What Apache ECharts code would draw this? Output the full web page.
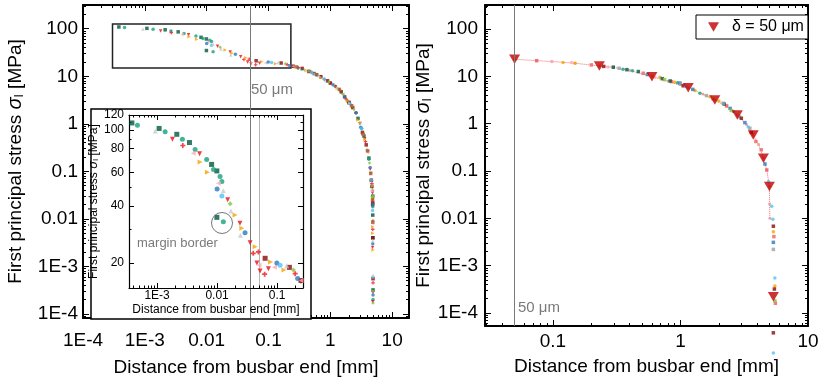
<!DOCTYPE html>
<html><head><meta charset="utf-8">
<script src="https://cdn.jsdelivr.net/npm/echarts@6/dist/echarts.min.js"></script>
<style>html,body{margin:0;padding:0;background:#fff}#c{width:822px;height:382px}</style>
</head><body><div id="c"></div>
<script>
// ---------- tick labels ----------
const leftXTicks = [1e-4, 1e-3, 0.01, 0.1, 1, 10];
const leftXLabels = ['1E-4', '1E-3', '0.01', '0.1', '1', '10'];
const stressTicks = [1e-4, 1e-3, 0.01, 0.1, 1, 10, 100];
const stressLabels = ['1E-4', '1E-3', '0.01', '0.1', '1', '10', '100'];
const rightXTicks = [0.1, 1, 10];
const rightXLabels = ['0.1', '1', '10'];
const insetXTicks = [1e-3, 0.01, 0.1];
const insetXLabels = ['1E-3', '0.01', '0.1'];
const insetYTicks = [20, 40, 60, 80, 100, 120];
const insetYLabels = ['20', '40', '60', '80', '100', '120'];
const insetYMinor = [30, 50, 70, 90, 110];
const deltaName = 'δ = 50 μm';
const marginLineX = 0.05; // 50 µm in mm
const zoomBox = [[3e-4, 126], [0.23, 15]];

// ---------- left panel / inset data: [distance mm, stress MPa] ----------
const darkGreenPts = [[3.8e-4,109],[1.08e-3,102],[2.13e-3,95],[3.46e-3,86],[8.1e-3,66],[9.9e-3,61],[0.0099,34.8],[0.35,14.5],[0.55,11.4],[0.9,8.0],[1.5,4.7],[2.0,2.8],[2.8,1.3],[3.5,0.55],[4.2,0.19],[4.85,0.03],[4.85,0.012],[4.88,4e-3],[4.9,3.2e-4]];
const tealPts = [[4.7e-4,106],[1.36e-3,98],[2.64e-3,89.6],[4.3e-3,79],[6.7e-3,70],[8.7e-3,62],[0.0112,57],[0.012,53.6],[0.0127,33],[0.3,15],[0.45,12.8],[0.7,9.8],[1.2,6.2],[1.9,3.0],[2.6,1.7],[3.2,0.8],[4.2,0.18],[4.6,0.065],[4.8,0.03],[4.85,0.018],[4.9,2e-4]];
const redTriPts = [[1.8e-3,89.6],[5.1e-3,75],[0.015,43],[0.024,32.4],[0.0355,25.6],[0.046,20],[0.052,18.2],[0.0716,18.7],[0.25,16],[0.35,14.5],[0.6,10.8],[0.9,8.0],[1.2,6.0],[1.5,4.6],[2.2,2.4],[3.0,1.0],[3.6,0.48],[4.4,0.11],[4.5,0.09],[4.8,0.035],[4.85,0.025],[4.82,2.5e-3],[4.88,2.8e-4],[4.85,1.8e-4]];
const redPlusPts = [[2.68e-3,83],[0.0488,22.9],[0.04,22.5],[0.062,17.5],[0.2,17.6],[0.3,15.3],[0.5,12.1],[0.8,8.6],[1.0,7.3],[1.4,5.2],[1.8,3.3],[2.6,1.7],[3.4,0.6],[3.7,0.42],[4.0,0.27],[4.7,0.055],[4.8,0.04],[4.87,9e-3],[4.85,6e-3],[4.9,4.5e-4]];
const darkRedPts = [[0.0631,21.2],[0.16,19],[0.25,16.2],[0.45,12.6],[0.7,9.8],[1.0,7.2],[1.7,3.7],[2.0,2.8],[2.3,2.2],[3.3,0.66],[3.8,0.36],[4.6,0.065],[4.7,0.048],[4.85,0.022],[4.82,0.02],[4.85,4e-3],[4.9,5.5e-4]];
const pinkPts = [[4e-3,75.5],[0.0105,52.5],[0.05,19.5],[0.09,19],[0.25,16.2],[0.55,11.2],[1.1,6.6],[1.6,4.2],[2.2,2.4],[3.0,1.05],[4.0,0.25],[4.82,8e-3]];
const orangePts = [[5.2e-3,68],[6.9e-3,60],[0.0199,35.8],[0.0258,30.5],[0.043,24.4],[0.0775,20.3],[0.13,18.4],[0.4,13.5],[0.7,9.5],[1.3,5.6],[1.9,3.0],[2.8,1.2],[3.6,0.48],[4.85,0.028],[4.85,6.8e-3],[4.85,5e-3],[4.9,2.2e-3]];
const bluePts = [[0.01,49],[0.0292,28.9],[0.099,20],[0.22,16.6],[0.6,10.8],[1.1,6.6],[1.7,3.7],[2.6,1.7],[3.1,0.85],[4.4,0.12],[4.85,0.02],[4.85,3e-3],[4.9,2.5e-4]];
const lightBluePts = [[0.012,45],[0.112,19.5],[0.5,11.8],[0.8,8.8],[2.1,2.6],[3.2,0.8],[4.6,0.065],[4.82,0.015],[4.9,6e-4]];
const greyPts = [[9.3e-4,99],[0.0127,48],[0.017,37.6],[0.0245,28],[0.144,19.4],[0.4,13.3],[0.65,10.3],[1.3,5.8],[2.0,2.8],[3.4,0.6],[3.9,0.3],[4.75,0.04],[4.85,3.5e-3],[4.9,6.5e-4]];
const yellowGreenPts = [[0.0165,41],[0.187,18.4],[0.45,12.8],[0.95,7.6],[1.6,4.2],[2.4,2.0],[3.0,1.05],[4.3,0.15],[4.7,0.05],[4.85,0.03],[4.88,3e-4],[4.9,1.7e-4]];
const brownPts = [[0.28,15.8],[0.6,10.8],[1.4,5.3],[2.2,2.4],[3.4,0.6],[4.0,0.27],[4.5,0.09],[4.8,0.025],[4.85,8.5e-3]];

// ---------- right panel data ----------
const deltaLinePts = [[0.05,22.9],[0.0745,21.4],[0.098,20.5],[0.149,18.9],[0.231,16.5],[0.3,15.4],[0.4,13.3],[0.597,9.8],[0.8,7.9],[1.15,5.75],[1.5,4.2],[1.86,3.16],[2.3,2.3],[2.79,1.52],[3.3,0.95],[3.72,0.575],[4.1,0.36],[4.47,0.186],[4.75,0.105],[4.98,0.047],[5.0,0.02],[5.02,0.01]];
const deltaTriPts = [[0.05,22.9],[0.231,16.5],[0.597,9.8],[1.15,5.75],[1.86,3.16],[2.79,1.52],[3.72,0.575],[4.47,0.186],[4.98,0.047],[5.35,2.2e-4]];
const rRedPts = [[0.0745,21.4],[0.2,17.4],[0.51,11.6],[0.85,7.7],[2.3,2.4],[3.9,0.42],[4.3,0.28],[4.75,0.105],[5.4,0.0041],[5.55,1.6e-4]];
const rPinkPts = [[0.098,20.5],[0.14,19.5],[0.27,15.8],[0.63,9.6]];
const rOrangePts = [[0.12,19.6],[0.149,18.9],[0.6,10.2],[0.69,9.5],[0.9,7.5],[1.3,5.0],[1.71,3.7],[2.0,3.0],[5.35,0.0052],[5.5,3.7e-4]];
const rDarkGreenPts = [[0.297,15.6],[0.38,13.8],[0.467,12.6],[0.72,8.9],[0.83,7.97],[2.2,2.6]];
const rTealPts = [[0.354,14.1],[0.42,13.1],[0.95,7.3],[1.42,4.4],[2.6,1.8]];
const rBluePts = [[0.55,10.9],[0.99,7.2],[1.25,5.3],[2.45,2.1],[3.2,1.05],[4.6,0.14],[5.35,0.0031]];
const rGreyPts = [[0.33,14.8],[1.0,6.8],[1.6,3.9],[2.16,2.7],[2.9,1.4],[3.5,0.8],[5.35,0.0022]];
const rDarkRedPts = [[0.25,16.2],[1.05,6.3],[3.0,1.3],[3.6,0.65],[5.35,0.0068],[5.45,3.2e-4],[5.35,3.8e-5]];
const rLightBluePts = [[1.1,6.2],[3.4,0.85],[4.9,0.06],[5.2,0.018],[5.3,0.0095],[5.5,5.5e-4],[5.35,1.43e-5]];
const rYellowGreenPts = [[0.75,8.5],[1.8,3.3],[2.5,1.9],[5.5,1.8e-4]];

// ---------- styling ----------
const FONT = '"Liberation Sans", Arial, sans-serif';
const PLUS = 'path://M2,0h2v2h2v2h-2v2h-2v-2h-2v-2h2z';
const DOWN = 'path://M0,0L2,0L1,1.7Z';
const groups = [
  {data: darkGreenPts, color: '#00583f', symbol: 'rect'},
  {data: tealPts, color: '#17a07a', symbol: 'circle'},
  {data: redTriPts, color: '#e3121c', symbol: DOWN},
  {data: redPlusPts, color: '#f0141e', symbol: PLUS},
  {data: darkRedPts, color: '#8b0a0a', symbol: 'rect'},
  {data: pinkPts, color: '#ffaab4', symbol: 'triangle', rot: 90},
  {data: orangePts, color: '#f5a300', symbol: 'triangle', rot: -90},
  {data: bluePts, color: '#2c7bbd', symbol: 'circle'},
  {data: lightBluePts, color: '#4fc3f2', symbol: 'circle'},
  {data: greyPts, color: '#c3cccc', symbol: 'triangle'},
  {data: yellowGreenPts, color: '#8cbf3f', symbol: 'diamond'},
  {data: brownPts, color: '#a0642d', symbol: 'rect'}
];
const rightGroups = [
  {data: rRedPts, color: '#f06060', symbol: 'rect'},
  {data: rPinkPts, color: '#ffaab4', symbol: 'circle'},
  {data: rOrangePts, color: '#f5a300', symbol: 'circle'},
  {data: rDarkGreenPts, color: '#00583f', symbol: 'rect'},
  {data: rTealPts, color: '#17a07a', symbol: 'circle'},
  {data: rBluePts, color: '#2c7bbd', symbol: 'rect'},
  {data: rGreyPts, color: '#9aa0a0', symbol: 'rect'},
  {data: rDarkRedPts, color: '#8b0a0a', symbol: 'rect'},
  {data: rLightBluePts, color: '#4fc3f2', symbol: 'circle'},
  {data: rYellowGreenPts, color: '#8cbf3f', symbol: 'rect'}
];

function minorTicks(lo, hi) {
  const out = [];
  for (let d = -6; d <= 3; d++) for (let k = 2; k <= 9; k++) {
    const v = k * Math.pow(10, d);
    if (v > lo && v < hi) out.push(+v.toPrecision(3));
  }
  return out;
}
function fmt(ticks, labels) {
  return v => {
    for (let i = 0; i < ticks.length; i++) if (Math.abs(Math.log10(ticks[i]) - Math.log10(v)) < 1e-6) return labels[i];
    return '';
  };
}
function axis(o) {
  return {
    type: 'log', logBase: 10, gridIndex: o.g, position: o.pos, min: o.min, max: o.max, z: o.z || 0,
    axisLine: {show: !!o.line, onZero: false, lineStyle: {color: '#000', width: o.lw || 2}},
    axisTick: {show: true, inside: true, length: o.tl, customValues: o.ticks, lineStyle: {color: '#000', width: 1}},
    axisLabel: o.labels ? {show: true, customValues: o.ticks, formatter: fmt(o.ticks, o.labels), margin: o.margin, color: '#000', fontFamily: FONT, fontSize: o.fs} : {show: false},
    minorTick: {show: false}, splitLine: {show: false}, axisPointer: {show: false},
    name: o.name || '', nameLocation: 'middle', nameGap: o.nameGap || 0,
    nameTextStyle: o.nameStyle || {}
  };
}
function yNameStyle(fs, sub) {
  return {fontFamily: FONT, fontSize: fs, color: '#000',
    rich: {t: {fontFamily: FONT, fontSize: fs, color: '#000'},
           s: {fontFamily: FONT, fontSize: fs + 1, fontStyle: 'italic', color: '#000'},
           b: {fontFamily: FONT, fontSize: sub, color: '#000', verticalAlign: 'bottom', padding: [Math.round(fs * 0.45), 0, 0, 0]}}};
}
const yNameText = '{t|First principal stress }{s|σ}{b|I}{t| [MPa]}';
const xNameText = 'Distance from busbar end [mm]';

const L = {xmin: 1e-4, xmax: 18.7, ymin: 8.2e-5, ymax: 316};
const R = {xmin: 0.0293, xmax: 10, ymin: 5.3e-5, ymax: 321};
const I = {xmin: 3.4e-4, xmax: 0.27, ymin: 14.8, ymax: 120};

const xAxes = [
  axis({g: 0, pos: 'bottom', min: L.xmin, max: L.xmax, ticks: leftXTicks, labels: leftXLabels, tl: 6, line: true, margin: 13, fs: 19, name: xNameText, nameGap: 40, nameStyle: {fontFamily: FONT, fontSize: 19, color: '#000'}}),
  axis({g: 0, pos: 'bottom', min: L.xmin, max: L.xmax, ticks: minorTicks(L.xmin, L.xmax), tl: 3}),
  axis({g: 0, pos: 'top', min: L.xmin, max: L.xmax, ticks: leftXTicks, tl: 6, line: true}),
  axis({g: 0, pos: 'top', min: L.xmin, max: L.xmax, ticks: minorTicks(L.xmin, L.xmax), tl: 3}),
  axis({g: 1, pos: 'bottom', min: R.xmin, max: R.xmax, ticks: rightXTicks, labels: rightXLabels, tl: 6, line: true, margin: 6, fs: 19, name: xNameText, nameGap: 31, nameStyle: {fontFamily: FONT, fontSize: 19, color: '#000'}}),
  axis({g: 1, pos: 'bottom', min: R.xmin, max: R.xmax, ticks: minorTicks(R.xmin, R.xmax), tl: 3}),
  axis({g: 1, pos: 'top', min: R.xmin, max: R.xmax, ticks: rightXTicks, tl: 6, line: true}),
  axis({g: 1, pos: 'top', min: R.xmin, max: R.xmax, ticks: minorTicks(R.xmin, R.xmax), tl: 3}),
  axis({g: 2, pos: 'bottom', min: I.xmin, max: I.xmax, ticks: insetXTicks, labels: insetXLabels, tl: 5, line: true, lw: 1.2, margin: 2, fs: 12, z: 10, name: xNameText, nameGap: 16, nameStyle: {fontFamily: FONT, fontSize: 12, color: '#000'}}),
  axis({g: 2, pos: 'bottom', min: I.xmin, max: I.xmax, ticks: minorTicks(I.xmin, I.xmax), tl: 2.5, z: 10}),
  axis({g: 2, pos: 'top', min: I.xmin, max: I.xmax, ticks: insetXTicks, tl: 5, line: true, lw: 1.2, z: 10}),
  axis({g: 2, pos: 'top', min: I.xmin, max: I.xmax, ticks: minorTicks(I.xmin, I.xmax), tl: 2.5, z: 10})
];
const yAxes = [
  axis({g: 0, pos: 'left', min: L.ymin, max: L.ymax, ticks: stressTicks, labels: stressLabels, tl: 6, line: true, margin: 5, fs: 19, name: yNameText, nameGap: 57, nameStyle: yNameStyle(19, 12)}),
  axis({g: 0, pos: 'left', min: L.ymin, max: L.ymax, ticks: minorTicks(L.ymin, L.ymax), tl: 3}),
  axis({g: 0, pos: 'right', min: L.ymin, max: L.ymax, ticks: stressTicks, tl: 6, line: true}),
  axis({g: 0, pos: 'right', min: L.ymin, max: L.ymax, ticks: minorTicks(L.ymin, L.ymax), tl: 3}),
  axis({g: 1, pos: 'left', min: R.ymin, max: R.ymax, ticks: stressTicks, labels: stressLabels, tl: 6, line: true, margin: 7, fs: 19, name: yNameText, nameGap: 50, nameStyle: yNameStyle(19, 12)}),
  axis({g: 1, pos: 'left', min: R.ymin, max: R.ymax, ticks: minorTicks(R.ymin, R.ymax), tl: 3}),
  axis({g: 1, pos: 'right', min: R.ymin, max: R.ymax, ticks: stressTicks, tl: 6, line: true}),
  axis({g: 1, pos: 'right', min: R.ymin, max: R.ymax, ticks: minorTicks(R.ymin, R.ymax), tl: 3}),
  axis({g: 2, pos: 'left', min: I.ymin, max: I.ymax, ticks: insetYTicks, labels: insetYLabels, tl: 5, line: true, lw: 1.2, margin: 5, fs: 12, z: 10, name: yNameText, nameGap: 27, nameStyle: yNameStyle(12, 8)}),
  axis({g: 2, pos: 'left', min: I.ymin, max: I.ymax, ticks: insetYMinor, tl: 2.5, z: 10}),
  axis({g: 2, pos: 'right', min: I.ymin, max: I.ymax, ticks: insetYTicks, tl: 5, line: true, lw: 1.2, z: 10}),
  axis({g: 2, pos: 'right', min: I.ymin, max: I.ymax, ticks: insetYMinor, tl: 2.5, z: 10})
];

const series = [];
groups.forEach((g, i) => {
  const main = {type: 'scatter', xAxisIndex: 0, yAxisIndex: 0, data: g.data, symbol: g.symbol, symbolRotate: g.rot || 0,
    symbolSize: 3.5, itemStyle: {color: g.color}, silent: true, z: 2};
  if (i === 0) {
    main.markLine = {silent: true, symbol: ['none', 'none'], label: {show: false},
      lineStyle: {color: '#7a7a7a', type: 'solid', width: 1}, data: [{xAxis: marginLineX}]};
    main.markArea = {silent: true, itemStyle: {color: 'rgba(0,0,0,0)', borderColor: '#222', borderWidth: 1.5},
      data: [[{coord: zoomBox[0]}, {coord: zoomBox[1]}]]};
  }
  series.push(main);
  const ins = {type: 'scatter', xAxisIndex: 8, yAxisIndex: 8, data: g.data, symbol: g.symbol, symbolRotate: g.rot || 0,
    symbolSize: 5, itemStyle: {color: g.color}, silent: true, z: 12, clip: true};
  if (i === 0) {
    ins.markLine = {silent: true, symbol: ['none', 'none'], label: {show: false},
      lineStyle: {color: '#b5b5b5', type: 'solid', width: 1}, data: [{xAxis: marginLineX}]};
  }
  series.push(ins);
});
series.push({type: 'line', name: 'delta line', xAxisIndex: 4, yAxisIndex: 4, data: deltaLinePts, showSymbol: true,
  symbol: 'rect', symbolSize: 2.5, itemStyle: {color: '#f29a9a'}, lineStyle: {color: '#ee7070', width: 1, type: 'dotted'}, silent: true, z: 2,
  markLine: {silent: true, symbol: ['none', 'none'], label: {show: false}, lineStyle: {color: '#7a7a7a', type: 'solid', width: 1}, data: [{xAxis: marginLineX}]}});
rightGroups.forEach(g => {
  series.push({type: 'scatter', xAxisIndex: 4, yAxisIndex: 4, data: g.data, symbol: g.symbol, symbolSize: 3.5,
    itemStyle: {color: g.color}, silent: true, z: 3, clip: false});
});
series.push({type: 'scatter', name: deltaName, xAxisIndex: 4, yAxisIndex: 4, data: deltaTriPts, symbol: DOWN,
  symbolSize: [11, 9.5], itemStyle: {color: '#c00000'}, silent: true, z: 4});

const option = {
  animation: false,
  backgroundColor: '#fff',
  grid: [
    {left: 83, top: 5, width: 326, height: 315, containLabel: false},
    {left: 485, top: 5, width: 323, height: 321, containLabel: false},
    {left: 129, top: 115, width: 174, height: 173, containLabel: false}
  ],
  xAxis: xAxes,
  yAxis: yAxes,
  legend: {show: true, data: [{name: deltaName, icon: DOWN}], left: 696, top: 15, orient: 'vertical',
    itemWidth: 11, itemHeight: 9.5, itemGap: 0, padding: [4, 4, 4, 12],
    borderColor: '#000', borderWidth: 1, backgroundColor: '#fff',
    textStyle: {fontFamily: FONT, fontSize: 16, color: '#000', padding: [0, 0, 0, 8]}},
  graphic: [
    {type: 'rect', z: 5, shape: {x: 91, y: 109, width: 220, height: 210}, style: {fill: '#fff', stroke: '#000', lineWidth: 1.5}},
    {type: 'text', z: 6, x: 251, y: 82, style: {text: '50 μm', fill: '#7a7a7a', font: '15px "Liberation Sans", Arial', textVerticalAlign: 'top'}},
    {type: 'text', z: 6, x: 518, y: 300, style: {text: '50 μm', fill: '#7a7a7a', font: '15px "Liberation Sans", Arial', textVerticalAlign: 'top'}},
    {type: 'text', z: 20, x: 137, y: 237, style: {text: 'margin border', fill: '#7a7a7a', font: '13px "Liberation Sans", Arial', textVerticalAlign: 'top'}},
    {type: 'circle', z: 20, shape: {cx: 222, cy: 223, r: 10.5}, style: {fill: 'none', stroke: '#777', lineWidth: 1}}
  ],
  series: series
};
const chart = echarts.init(document.getElementById('c'), null, {renderer: 'canvas'});
chart.setOption(option);
</script>
</body></html>
